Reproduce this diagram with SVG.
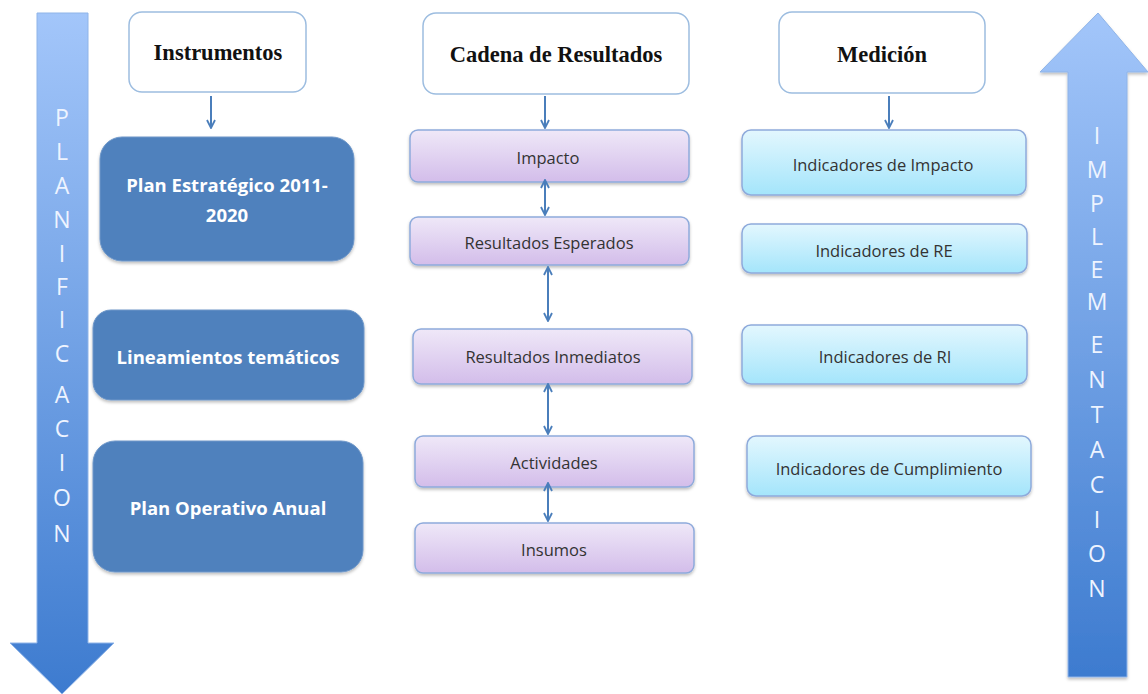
<svg xmlns="http://www.w3.org/2000/svg" width="1148" height="694" viewBox="0 0 1148 694">
<defs>
<linearGradient id="gArrowDown" x1="0" y1="0" x2="0" y2="1">
<stop offset="0" stop-color="#a3c6fa"/><stop offset="1" stop-color="#3d7bcf"/>
</linearGradient>
<linearGradient id="gArrowUp" x1="0" y1="0" x2="0" y2="1">
<stop offset="0" stop-color="#a3c6fa"/><stop offset="1" stop-color="#3d7bcf"/>
</linearGradient>
<linearGradient id="gLav" x1="0" y1="0" x2="0" y2="1">
<stop offset="0" stop-color="#efe8f8"/><stop offset="1" stop-color="#d3bdea"/>
</linearGradient>
<linearGradient id="gCyan" x1="0" y1="0" x2="0" y2="1">
<stop offset="0" stop-color="#e3f7fe"/><stop offset="1" stop-color="#a4e5fb"/>
</linearGradient>
<filter id="sh" x="-10%" y="-20%" width="120%" height="150%">
<feDropShadow dx="0" dy="2" stdDeviation="1.5" flood-color="#000" flood-opacity="0.25"/>
</filter>
<marker id="ah" viewBox="0 0 10 10" refX="9" refY="5" markerWidth="5" markerHeight="5" orient="auto-start-reverse">
<path d="M1,1 L9,5 L1,9" fill="none" stroke="#4a7ebb" stroke-width="1.8"/>
</marker>
<style>
.hdr{fill:#fff;stroke:#9dbde0;stroke-width:1.5}
.hdrt{font-family:"Liberation Serif",serif;font-weight:bold;font-size:22.5px;fill:#111;text-anchor:middle}
.dark{fill:#4f81bd;stroke:#6e97c9;stroke-width:1}
.darkt{font-family:"Open Sans","Liberation Sans",sans-serif;font-weight:bold;font-size:18.5px;fill:#fff;text-anchor:middle}
.lav{fill:url(#gLav);stroke:#8eaadb;stroke-width:1.5}
.cyan{fill:url(#gCyan);stroke:#8eaadb;stroke-width:1.5}
.bt{font-family:"Open Sans","Liberation Sans",sans-serif;font-size:16.5px;fill:#333;text-anchor:middle}
.big{font-family:"Open Sans","Liberation Sans",sans-serif;font-size:23px;fill:#eef4ff;text-anchor:middle}
.con{stroke:#4a7ebb;stroke-width:2;fill:none}
</style>
</defs>

<g id="arrow-planificacion">
<path d="M37,13 H88 V643 H114 L62,694 L10,643 H37 Z" fill="url(#gArrowDown)" stroke="#8fb4e8" stroke-width="1"/>
<text class="big" x="62"><tspan x="62" y="126">P</tspan><tspan x="62" y="160">L</tspan><tspan x="62" y="194">A</tspan><tspan x="62" y="228">N</tspan><tspan x="62" y="262">I</tspan><tspan x="62" y="295">F</tspan><tspan x="62" y="328">I</tspan><tspan x="62" y="362">C</tspan><tspan x="62" y="403">A</tspan><tspan x="62" y="437">C</tspan><tspan x="62" y="471">I</tspan><tspan x="62" y="506">O</tspan><tspan x="62" y="542">N</tspan></text>
</g>

<g id="arrow-implementacion">
<path d="M1068,677 V72 H1040 L1098,13 L1148,72 H1127 V677 Z" fill="url(#gArrowUp)" stroke="#8fb4e8" stroke-width="1" filter="url(#sh)"/>
<text class="big"><tspan x="1097" y="144">I</tspan><tspan x="1097" y="178">M</tspan><tspan x="1097" y="212">P</tspan><tspan x="1097" y="245">L</tspan><tspan x="1097" y="278">E</tspan><tspan x="1097" y="310">M</tspan><tspan x="1097" y="353">E</tspan><tspan x="1097" y="388">N</tspan><tspan x="1097" y="423">T</tspan><tspan x="1097" y="458">A</tspan><tspan x="1097" y="493">C</tspan><tspan x="1097" y="528">I</tspan><tspan x="1097" y="562">O</tspan><tspan x="1097" y="597">N</tspan></text>
</g>

<g id="instrumentos">
<rect class="hdr" x="129" y="12" width="177" height="80" rx="13"/>
<text class="hdrt" x="218" y="60">Instrumentos</text>
</g>
<g id="plan-estrategico">
<rect class="dark" x="100" y="137" width="254" height="124" rx="22" filter="url(#sh)"/>
<text class="darkt" x="227" y="192">Plan Estratégico 2011-</text>
<text class="darkt" x="227" y="222">2020</text>
</g>
<g id="lineamientos">
<rect class="dark" x="93" y="310" width="271" height="90" rx="18" filter="url(#sh)"/>
<text class="darkt" x="228" y="364">Lineamientos temáticos</text>
</g>
<g id="poa">
<rect class="dark" x="93" y="441" width="270" height="131" rx="22" filter="url(#sh)"/>
<text class="darkt" x="228" y="515">Plan Operativo Anual</text>
</g>

<g id="cadena">
<rect class="hdr" x="423" y="13" width="266" height="81" rx="13"/>
<text class="hdrt" x="556" y="62">Cadena de Resultados</text>
</g>
<g id="impacto">
<rect class="lav" x="410" y="130" width="279" height="52" rx="8" filter="url(#sh)"/>
<text class="bt" x="548" y="164">Impacto</text>
</g>
<g id="resultados-esperados">
<rect class="lav" x="410" y="217" width="279" height="48" rx="8" filter="url(#sh)"/>
<text class="bt" x="549" y="249">Resultados Esperados</text>
</g>
<g id="resultados-inmediatos">
<rect class="lav" x="413" y="329" width="279" height="55" rx="8" filter="url(#sh)"/>
<text class="bt" x="553" y="363">Resultados Inmediatos</text>
</g>
<g id="actividades">
<rect class="lav" x="415" y="436" width="279" height="51" rx="8" filter="url(#sh)"/>
<text class="bt" x="554" y="469">Actividades</text>
</g>
<g id="insumos">
<rect class="lav" x="415" y="523" width="279" height="50" rx="8" filter="url(#sh)"/>
<text class="bt" x="554" y="556">Insumos</text>
</g>

<g id="medicion">
<rect class="hdr" x="779" y="12" width="206" height="81" rx="13"/>
<text class="hdrt" x="882" y="62">Medición</text>
</g>
<g id="ind-impacto">
<rect class="cyan" x="742" y="130" width="284" height="65" rx="9" filter="url(#sh)"/>
<text class="bt" x="883" y="171">Indicadores de Impacto</text>
</g>
<g id="ind-re">
<rect class="cyan" x="742" y="224" width="285" height="49" rx="9" filter="url(#sh)"/>
<text class="bt" x="884" y="257">Indicadores de RE</text>
</g>
<g id="ind-ri">
<rect class="cyan" x="742" y="325" width="285" height="59" rx="9" filter="url(#sh)"/>
<text class="bt" x="885" y="363">Indicadores de RI</text>
</g>
<g id="ind-cumplimiento">
<rect class="cyan" x="747" y="436" width="284" height="60" rx="9" filter="url(#sh)"/>
<text class="bt" x="889" y="475">Indicadores de Cumplimiento</text>
</g>

<g id="connectors">
<line class="con" x1="211" y1="96" x2="211" y2="128" marker-end="url(#ah)"/>
<line class="con" x1="545" y1="96" x2="545" y2="128" marker-end="url(#ah)"/>
<line class="con" x1="889" y1="96" x2="889" y2="128" marker-end="url(#ah)"/>
<line class="con" x1="545" y1="180" x2="545" y2="215" marker-start="url(#ah)" marker-end="url(#ah)"/>
<line class="con" x1="548" y1="267" x2="548" y2="321" marker-start="url(#ah)" marker-end="url(#ah)"/>
<line class="con" x1="548" y1="384" x2="548" y2="434" marker-start="url(#ah)" marker-end="url(#ah)"/>
<line class="con" x1="548" y1="483" x2="548" y2="521" marker-start="url(#ah)" marker-end="url(#ah)"/>
</g>
</svg>
